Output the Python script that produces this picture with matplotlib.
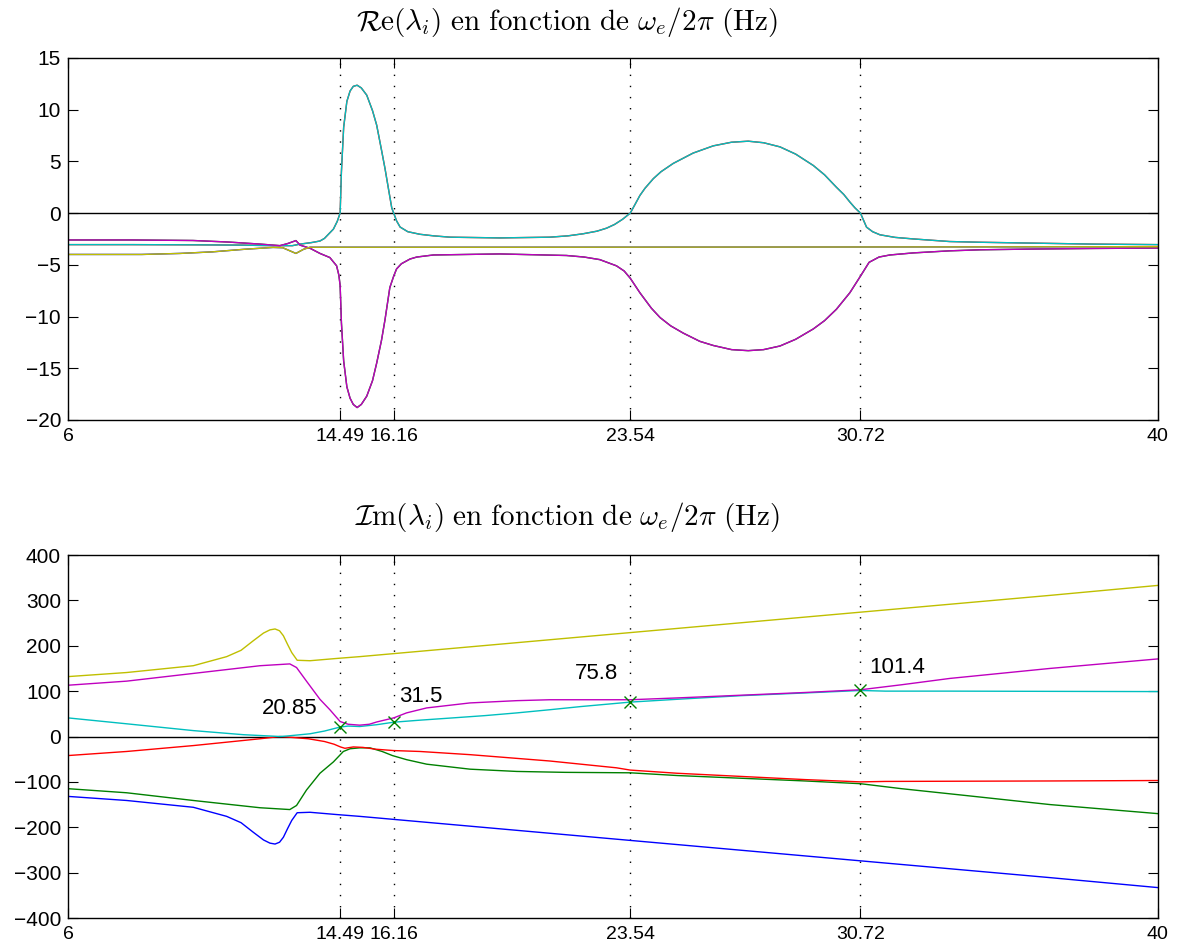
"""Real and imaginary parts of the eigenvalues versus the electrical frequency"""

import matplotlib.pyplot as plt

plt.rcParams['font.family'] = ['Liberation Sans', 'DejaVu Sans']
plt.rcParams['mathtext.fontset'] = 'cm'

# x ticks (frequencies where the real part changes sign)
freq_marks = [14.49, 16.16, 23.54, 30.72]
xtick_vals = [6, 14.49, 16.16, 23.54, 30.72, 40]
xtick_labels = ['6', '14.49', '16.16', '23.54', '30.72', '40']

# --- real parts (red lies under cyan, green under magenta, blue under yellow)
re_cyan_f = [6, 8, 10, 11.5, 12.4, 13.0, 13.24, 13.6, 13.86, 14.0, 14.28, 14.4,
             14.49, 14.53, 14.6, 14.7, 14.8, 14.9, 15.02, 15.15, 15.32, 15.5,
             15.63, 15.78, 15.89, 16.0, 16.1, 16.16, 16.25, 16.36, 16.6, 16.98,
             17.4, 17.92, 19.47, 21.03, 21.6, 22.07, 22.5, 22.8, 23.05, 23.3,
             23.54, 23.7, 23.84, 24.0, 24.26, 24.5, 24.88, 25.5, 26.13, 26.7,
             27.22, 27.7, 28.21, 28.7, 29.25, 29.6, 29.97, 30.2, 30.39, 30.55,
             30.72, 30.91, 31.1, 31.33, 31.8, 32.37, 33.5, 34.45, 36, 38, 40]
re_cyan = [-3.05, -3.05, -3.07, -3.1, -3.15, -3.15, -3.0, -2.85, -2.7, -2.45,
           -1.55, -0.8, 0, 4.0, 8.3, 10.8, 11.8, 12.25, 12.36, 12.1, 11.4, 9.9,
           8.5, 6.1, 4.3, 2.3, 0.5, 0, -0.75, -1.35, -1.8, -2.05, -2.2, -2.33,
           -2.4, -2.33, -2.2, -2.0, -1.75, -1.46, -1.1, -0.6, 0, 0.9, 1.7, 2.4,
           3.33, 4.0, 4.8, 5.8, 6.5, 6.85, 6.95, 6.8, 6.4, 5.7, 4.6, 3.7, 2.5,
           1.8, 1.07, 0.5, 0, -1.36, -1.8, -2.1, -2.35, -2.5, -2.75, -2.82, -2.9,
           -3.0, -3.05]

re_mag_f = [6, 8, 9.9, 11, 12, 12.61, 12.85, 13.11, 13.24, 13.55, 13.86, 14.17,
            14.38, 14.45, 14.49, 14.53, 14.6, 14.7, 14.8, 14.9, 15.02, 15.15,
            15.32, 15.5, 15.63, 15.78, 15.89, 16.04, 16.16, 16.25, 16.4, 16.67,
            16.88, 17.4, 19.47, 21.55, 22.1, 22.59, 23.11, 23.35, 23.54, 23.84,
            24.2, 24.47, 24.8, 25.19, 25.71, 26.13, 26.7, 27.22, 27.7, 28.21,
            28.7, 29.25, 29.6, 29.97, 30.39, 30.72, 30.99, 31.3, 31.64, 32.37,
            33.5, 34.45, 36, 38, 40]
re_mag = [-2.6, -2.6, -2.65, -2.8, -3.0, -3.15, -2.95, -2.66, -3.1, -3.4, -3.9,
          -4.3, -5.1, -6.0, -7.0, -10.6, -14.3, -16.8, -17.9, -18.5, -18.8,
          -18.5, -17.7, -16.2, -14.5, -12.3, -10.3, -7.2, -6.1, -5.4, -4.9,
          -4.44, -4.25, -4.05, -3.95, -4.1, -4.25, -4.5, -5.1, -5.6, -6.3, -7.7,
          -9.2, -10.1, -10.9, -11.6, -12.4, -12.8, -13.2, -13.3, -13.2, -12.85,
          -12.2, -11.2, -10.4, -9.3, -7.7, -6.1, -4.76, -4.25, -4.05, -3.85,
          -3.65, -3.55, -3.48, -3.42, -3.38]

re_yel_f = [6, 8.3, 9.5, 10.5, 11.5, 12.4, 12.7, 13.11, 13.35, 13.55, 20, 30, 40]
re_yel = [-4.0, -4.0, -3.9, -3.75, -3.5, -3.32, -3.35, -3.9, -3.5, -3.3, -3.3,
          -3.28, -3.25]

# --- imaginary parts
im_yel_f = [6, 7.83, 9.91, 10.95, 11.4, 11.78, 12.1, 12.3, 12.46, 12.6, 12.72,
            12.85, 12.98, 13.15, 13.55, 14.38, 15.1, 23.54, 30.72, 36.63, 40]
im_yel = [132, 141, 156, 176, 190, 211, 228, 235, 237, 233, 222, 203, 185, 168,
          167, 172, 176, 229, 274, 311, 333]
im_blue = [-132, -141, -156, -176, -190, -211, -228, -235, -237, -233, -222,
           -203, -185, -168, -167, -172, -176, -229, -274, -311, -333]

im_mag_f = [6, 7.83, 9.91, 11.99, 12.92, 13.13, 13.44, 13.86, 14.17, 14.49,
            14.74, 15.1, 15.4, 15.63, 16.16, 16.56, 17.19, 18.54, 20, 21.03,
            22.5, 23.54, 25, 27, 29, 30.72, 32, 33.51, 36.63, 40]
im_mag = [113, 122, 139, 156, 160, 152, 122, 82, 59, 33, 27, 25, 27, 32, 41, 52,
          63, 74, 79, 81, 81, 81, 85, 91, 97, 103, 114, 128, 150, 171]

im_grn_f = [6, 7.83, 9.91, 11.99, 12.92, 13.13, 13.44, 13.86, 14.28, 14.59,
            14.8, 15.1, 15.42, 15.8, 16.12, 16.56, 17.19, 18.54, 20, 21.5, 23.54,
            25, 27, 29, 30.72, 32, 34, 36.63, 40]
im_grn = [-115, -124, -141, -157, -161, -152, -118, -81, -56, -33, -27, -25,
          -25, -33, -42, -51, -61, -72, -77, -79, -80, -86, -92, -98, -104, -115,
          -130, -150, -170]

im_cyan_f = [6, 7.83, 9.91, 11.47, 12.61, 12.82, 13.55, 14.0, 14.49, 14.74,
             15.1, 15.63, 16.16, 16.98, 18, 19, 20, 21.03, 22, 23.54, 25, 27,
             29, 30.72, 31.5, 33.51, 36.63, 40]
im_cyan = [41, 28, 13, 4, 0, 1, 6, 12, 20.85, 23, 22, 26, 31.5, 36, 41, 46, 52,
           59, 66, 75.8, 82, 90, 96, 101.4, 100, 100, 99.5, 99]

im_red_f = [6, 7.83, 9.91, 11.99, 12.61, 12.82, 13.5, 14.0, 14.3, 14.5, 14.64,
            14.9, 15.2, 15.6, 16.16, 16.98, 18.54, 21.03, 23.11, 23.54, 25, 27,
            29, 30.72, 31.5, 36.63, 40]
im_red = [-42, -33, -20, -5, 0, -1, -5, -11, -17, -23, -26, -23, -24, -28, -31,
          -33, -40, -54, -69, -74, -81, -88, -95, -100, -99, -98, -97]

# labelled points on the imaginary plot
mark_f = [14.49, 16.16, 23.54, 30.72]
mark_val = [20.85, 31.5, 75.8, 101.4]
mark_txt = ['20.85', '31.5', '75.8', '101.4']

C_B = (0, 0, 1)
C_G = (0, 0.5, 0)
C_R = (1, 0, 0)
C_C = (0, 0.75, 0.75)
C_M = (0.75, 0, 0.75)
C_Y = (0.75, 0.75, 0)


def style_axes(ax, ylim, yticks):
    ax.set_xlim(6, 40)
    ax.set_ylim(*ylim)
    ax.set_xticks(xtick_vals)
    ax.set_xticklabels(xtick_labels)
    ax.set_yticks(yticks)
    ax.tick_params(direction='in', length=7.5, width=0.8,
                   top=True, right=True)
    ax.tick_params(axis='x', pad=6, labelsize=14)
    ax.tick_params(axis='y', pad=5, labelsize=15)
    for sp in ax.spines.values():
        sp.set_linewidth(1.0)
    ax.axhline(0, color='k', lw=1.0, zorder=1)
    for f in freq_marks:
        ax.axvline(f, color='k', lw=1.0, ls=(0, (1, 7)), zorder=0)


fig = plt.figure(figsize=(11.8, 9.51), dpi=100)
ax1 = fig.add_axes([0.0576, 0.5584, 0.9237, 0.3807])
ax2 = fig.add_axes([0.0576, 0.0347, 0.9237, 0.3817])

# Real parts
ax1.plot(re_yel_f, re_yel, color=C_B, lw=1.0)
ax1.plot(re_mag_f, re_mag, color=C_G, lw=1.0)
ax1.plot(re_cyan_f, re_cyan, color=C_R, lw=1.0)
ax1.plot(re_cyan_f, re_cyan, color=C_C, lw=1.0)
ax1.plot(re_mag_f, re_mag, color=C_M, lw=1.0)
ax1.plot(re_yel_f, re_yel, color=C_Y, lw=1.0)
style_axes(ax1, (-20, 15), range(-20, 16, 5))
ax1.text(0.458, 1.10, r'$\mathcal{R}\mathrm{e}(\lambda_i)\ \mathrm{en\ fonction\ de}\ '
         r'\omega_e/2\pi\ \mathrm{(Hz)}$', transform=ax1.transAxes,
         ha='center', va='center', fontsize=21)

# Imaginary parts
ax2.plot(im_yel_f, im_blue, color=C_B, lw=1.0)
ax2.plot(im_grn_f, im_grn, color=C_G, lw=1.0)
ax2.plot(im_red_f, im_red, color=C_R, lw=1.0)
ax2.plot(im_cyan_f, im_cyan, color=C_C, lw=1.0)
ax2.plot(im_mag_f, im_mag, color=C_M, lw=1.0)
ax2.plot(im_yel_f, im_yel, color=C_Y, lw=1.0)
ax2.plot(mark_f, mark_val, 'x', color=C_G, ms=8, mew=1.0, zorder=5)
style_axes(ax2, (-400, 400), range(-400, 401, 100))
ax2.text(0.458, 1.105, r'$\mathcal{I}\mathrm{m}(\lambda_i)\ \mathrm{en\ fonction\ de}\ '
         r'\omega_e/2\pi\ \mathrm{(Hz)}$', transform=ax2.transAxes,
         ha='center', va='center', fontsize=21)

offsets = [(-16, 6), (4, 11), (-9, 13), (6, 9)]
aligns = ['right', 'left', 'right', 'left']
for f, v, t, off, ha in zip(mark_f, mark_val, mark_txt, offsets, aligns):
    ax2.annotate(t, (f, v), textcoords='offset points', xytext=off,
                 ha=ha, va='bottom', fontsize=16)

fig.savefig('out.png', dpi=100)
